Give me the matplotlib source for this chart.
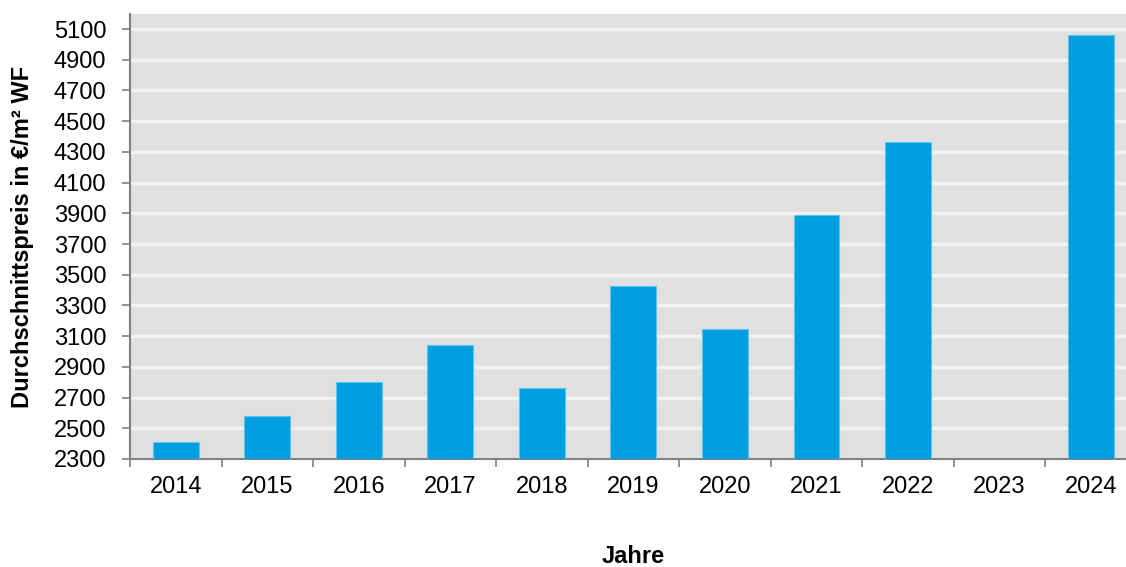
import numpy as np
import matplotlib
matplotlib.use("Agg")
from matplotlib import pyplot as plt

# Average price per year (2023 has no value)
years = ["2014", "2015", "2016", "2017", "2018", "2019", "2020", "2021", "2022", "2023", "2024"]
prices = [2410, 2580, 2800, 3040, 2760, 3425, 3145, 3890, 4365, np.nan, 5060]
y_ticks = list(range(2300, 5101, 200))

plt.rcParams["font.family"] = ["Liberation Sans", "DejaVu Sans"]

fig = plt.figure(figsize=(11.26, 5.67), dpi=100)
ax = fig.add_axes([0.1155, 0.1905, 0.894, 0.7848])
ax.set_facecolor("#e0e0e0")

x = np.arange(len(years))
ax.bar(x, prices, width=0.5, color="#009ee0", edgecolor="#5cc4ee", linewidth=0.8, zorder=3)

ax.set_xlim(-0.5, len(years) - 0.5)
ax.set_ylim(2300, 5198)
ax.set_yticks(y_ticks)
ax.set_yticklabels([str(t) for t in y_ticks], fontsize=17)
ax.yaxis.grid(True, color="#f2f2f2", linewidth=2.5, zorder=1)
ax.set_axisbelow(True)

# category labels centred, ticks on the boundaries
ax.set_xticks(x)
ax.set_xticklabels(years, fontsize=17)
ax.tick_params(axis="x", length=0, pad=12)
ax.set_xticks(np.arange(-0.5, len(years)), minor=True)
ax.tick_params(axis="x", which="minor", length=6, color="#808080", width=1.2)
ax.tick_params(axis="y", length=6, color="#808080", width=1.2, pad=11)

for side in ["top", "right"]:
    ax.spines[side].set_visible(False)
for side in ["left", "bottom"]:
    ax.spines[side].set_color("#808080")
    ax.spines[side].set_linewidth(1.5)

ax.set_ylabel("Durchschnittspreis in €/m² WF", fontsize=17, fontweight="bold", va="center")
ax.yaxis.set_label_coords(-0.107, 0.5)
ax.set_xlabel("Jahre", fontsize=17, fontweight="bold", va="center")
ax.xaxis.set_label_coords(0.5, -0.22)

fig.savefig("out.png", dpi=100)
plt.close(fig)
